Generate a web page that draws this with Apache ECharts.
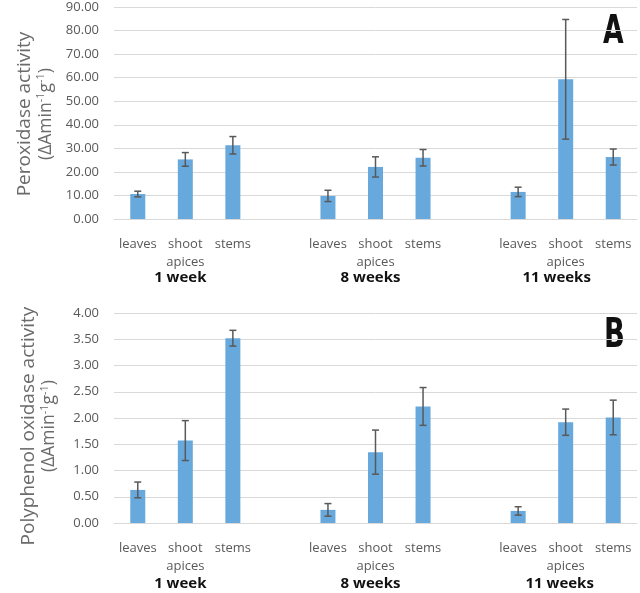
<!DOCTYPE html>
<html>
<head>
<meta charset="utf-8">
<script src="https://cdn.jsdelivr.net/npm/echarts@6/dist/echarts.min.js"></script>
<style>html,body{margin:0;padding:0;background:#fff}#c{width:640px;height:593px}</style>
</head>
<body>
<div id="c"></div>
<script>
// ---- data ----
const tissues = ['leaves', 'shoot\napices', 'stems'];
const ages = ['1 week', '8 weeks', '11 weeks'];
const peroxidase    = [10.6, 25.3, 31.3, 9.8, 22.1, 26.0, 11.5, 59.3, 26.3];
const peroxidaseErr = [1.2, 2.9, 3.7, 2.4, 4.3, 3.5, 2.0, 25.4, 3.4];
const ppo    = [0.63, 1.57, 3.52, 0.25, 1.35, 2.22, 0.23, 1.92, 2.01];
const ppoErr = [0.15, 0.38, 0.15, 0.12, 0.42, 0.36, 0.08, 0.25, 0.33];
const peroxTicks = {min: 0, max: 90, interval: 10};
const ppoTicks = {min: 0, max: 4, interval: 0.5};

// ---- build category slots (blank slot between age groups) ----
const cats = [], slotIdx = [];
ages.forEach((a, gi) => {
  tissues.forEach((t) => { slotIdx.push(cats.length); cats.push(t); });
  if (gi < ages.length - 1) cats.push('');
});
function groupCats(lastPad) {
  const g = cats.map(() => '');
  ages.forEach((a, gi) => {
    g[slotIdx[gi * 3 + 1]] = {value: a, textStyle: {padding: [0, gi === 2 ? lastPad : 10, 0, 0]}};
  });
  return g;
}
function barData(vals) {
  const d = cats.map(() => '-');
  vals.forEach((v, i) => { d[slotIdx[i]] = v; });
  return d;
}
function errData(vals, errs) {
  return vals.map((v, i) => [slotIdx[i], v - errs[i], v + errs[i]]);
}

const BLUE = '#67A9DC';
const GRAY = '#595959';
const FONT = 'Open Sans';

function errRender(params, api) {
  const x = api.value(0);
  const lo = api.coord([x, api.value(1)]);
  const hi = api.coord([x, api.value(2)]);
  const w = 3.5;
  const st = {stroke: GRAY, lineWidth: 1.5};
  return {type: 'group', children: [
    {type: 'line', shape: {x1: lo[0], y1: lo[1], x2: hi[0], y2: hi[1]}, style: st},
    {type: 'line', shape: {x1: hi[0] - w, y1: hi[1], x2: hi[0] + w, y2: hi[1]}, style: st},
    {type: 'line', shape: {x1: lo[0] - w, y1: lo[1], x2: lo[0] + w, y2: lo[1]}, style: st}
  ]};
}

function yName(l1) {
  return '{t|' + l1 + '}\n{u|(ΔAmin}{s|-1}{u|g}{s|-1}{u|)}';
}
function nameStyle(pad) {
  return {
    padding: pad,
    rich: {
      t: {fontSize: 19, fontFamily: FONT, color: '#6b6b6b', lineHeight: 21},
      u: {fontSize: 17.5, fontFamily: FONT, color: '#6b6b6b', lineHeight: 21},
      s: {fontSize: 11, fontFamily: FONT, color: '#6b6b6b', verticalAlign: 'top', lineHeight: 11}
    }
  };
}

const grids = [
  {left: 114, right: 3, top: 7, height: 212},
  {left: 114, right: 3, top: 313, height: 210}
];

function catAxis(gi) {
  return {
    type: 'category', gridIndex: gi, data: cats,
    axisTick: {show: false},
    axisLine: {lineStyle: {color: '#D9D9D9', width: 1}},
    axisLabel: {interval: 0, color: GRAY, fontFamily: FONT, fontSize: 13, lineHeight: 18, margin: 16}
  };
}
function groupAxis(gi, margin, lastPad) {
  return {
    type: 'category', gridIndex: gi, data: groupCats(lastPad), position: 'bottom',
    axisTick: {show: false}, axisLine: {show: false},
    axisLabel: {interval: 0, color: '#111', fontFamily: FONT, fontWeight: 'bold', fontSize: 15, margin: margin}
  };
}
function valAxis(gi, t, name, pad) {
  return {
    type: 'value', gridIndex: gi, min: t.min, max: t.max, interval: t.interval,
    axisLabel: {formatter: v => v.toFixed(2), color: GRAY, fontFamily: FONT, fontSize: 13, margin: 15},
    splitLine: {lineStyle: {color: '#D9D9D9', width: 1}},
    axisLine: {show: false}, axisTick: {show: false},
    name: name, nameLocation: 'middle', nameRotate: 90, nameGap: 54, nameTextStyle: nameStyle(pad)
  };
}

const chart = echarts.init(document.getElementById('c'), null, {renderer: 'canvas'});
chart.setOption({
  animation: false,
  grid: grids,
  xAxis: [catAxis(0), groupAxis(0, 51, 18), catAxis(1), groupAxis(1, 53, 12)],
  yAxis: [
    valAxis(0, peroxTicks, yName('Peroxidase activity'), [0, 2, 0, 0]),
    valAxis(1, ppoTicks, yName('Polyphenol oxidase activity'), [0, 16, 0, 0])
  ],
  series: [
    {type: 'bar', xAxisIndex: 0, yAxisIndex: 0, data: barData(peroxidase), barWidth: 15, itemStyle: {color: BLUE}},
    {type: 'custom', xAxisIndex: 0, yAxisIndex: 0, data: errData(peroxidase, peroxidaseErr), renderItem: errRender, z: 5},
    {type: 'bar', xAxisIndex: 2, yAxisIndex: 1, data: barData(ppo), barWidth: 15, itemStyle: {color: BLUE}},
    {type: 'custom', xAxisIndex: 2, yAxisIndex: 1, data: errData(ppo, ppoErr), renderItem: errRender, z: 5}
  ],
  graphic: [
    {type: 'text', x: 603, y: 13, scaleX: 0.76, style: {text: 'A', font: 'bold 39px "DejaVu Sans Condensed"', fill: '#111'}},
    {type: 'text', x: 604, y: 317, scaleX: 0.76, style: {text: 'B', font: 'bold 40px "DejaVu Sans Condensed"', fill: '#111'}}
  ]
});
</script>
</body>
</html>
